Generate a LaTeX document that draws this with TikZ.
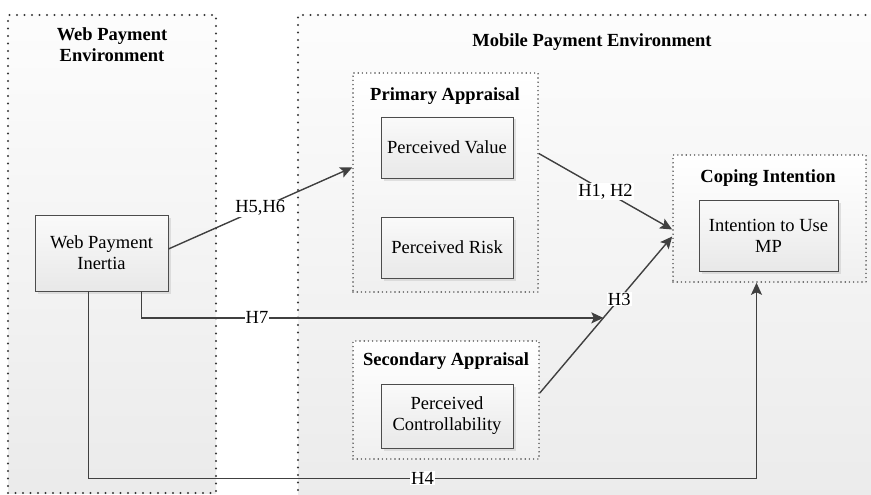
\documentclass[tikz,border=0pt]{standalone}
\usepackage{fontspec}
\setmainfont{Liberation Serif}
\usetikzlibrary{arrows.meta,shadows}

\begin{document}
\begin{tikzpicture}[x=1pt, y=-1pt,
    every node/.style={font=\fontsize{18.5}{21}\selectfont},
    env/.style={draw=black!78, line width=2.2pt, dash pattern=on 0pt off 7.5pt, line cap=round,
      top color=black!1, bottom color=black!8, inner sep=0pt},
    group/.style={draw=black!72, line width=1.6pt, dash pattern=on 0pt off 4.2pt, line cap=round,
      top color=white, bottom color=black!6, inner sep=0pt},
    box/.style={draw=black!70, line width=0.8pt, top color=black!2, bottom color=black!9,
      drop shadow={shadow xshift=2.5pt, shadow yshift=-2.5pt, fill=black!22},
      align=center, inner sep=2pt},
    heading/.style={font=\fontsize{18.5}{21}\selectfont\bfseries, align=center},
    link/.style={draw=black!75, line width=1.4pt, -{Stealth[length=12pt, width=11pt, inset=2.5pt]}},
    hyp/.style={fill=white, inner sep=1pt}
  ]
    \useasboundingbox (0,0) rectangle (871,495);
    \clip (0,0) rectangle (871,495);

    % the two environments
    \node [env, minimum width=208pt, minimum height=478pt] (wpe) at (112,254) {};
    \node [env, minimum width=600pt, minimum height=500pt] (mpe) at (598,265) {};
    \node [heading] (wpetitle) at (112,44.5) {Web Payment\\Environment};
    \node [heading] (mpetitle) at (592,42) {Mobile Payment Environment};

    % appraisal and coping groups
    \node [group, minimum width=185pt, minimum height=219pt] (primary) at (445.5,182.5) {};
    \node [heading] (primtitle) at (445,96) {Primary Appraisal};
    \node [group, minimum width=186pt, minimum height=118pt] (secondary) at (446,400) {};
    \node [heading] (sectitle) at (446,361) {Secondary Appraisal};
    \node [group, minimum width=193pt, minimum height=127pt] (coping) at (769.5,218.5) {};
    \node [heading] (copetitle) at (768,178) {Coping Intention};

    % constructs
    \node [box, minimum width=133pt, minimum height=76pt] (inertia) at (101.5,253) {Web Payment\\Inertia};
    \node [box, minimum width=132pt, minimum height=61pt] (value) at (447,147.5) {Perceived Value};
    \node [box, minimum width=132pt, minimum height=61pt] (risk) at (447,247.5) {Perceived Risk};
    \node [box, minimum width=132pt, minimum height=64pt] (control) at (447,416) {Perceived\\Controllability};
    \node [box, minimum width=139pt, minimum height=71pt] (intention) at (768.5,235.5) {Intention to Use\\MP};

    % hypotheses
    \draw [link] ([yshift=4pt]inertia.east) -- ([yshift=15pt]primary.west) node [hyp, pos=0.5] (h56) {H5,H6};
    \draw [link] ([yshift=29pt]primary.east) -- ([yshift=-11pt]coping.west) node [hyp, pos=0.5] (h12) {H1, H2};
    \draw [link] ([yshift=7pt]secondary.east) -- ([yshift=-18pt]coping.west)
      coordinate [pos=0.48] (h7end) node [hyp, pos=0.6] (h3) {H3};
    \draw [link] ([xshift=40pt]inertia.south) |- (h7end) node [hyp, pos=0.625] (h7) {H7};
    \draw [link] ([xshift=-13pt]inertia.south) -- ++(0,187) -| ([xshift=-13pt]coping.south)
      node [hyp, pos=0.25] (h4) {H4};
\end{tikzpicture}
\end{document}
